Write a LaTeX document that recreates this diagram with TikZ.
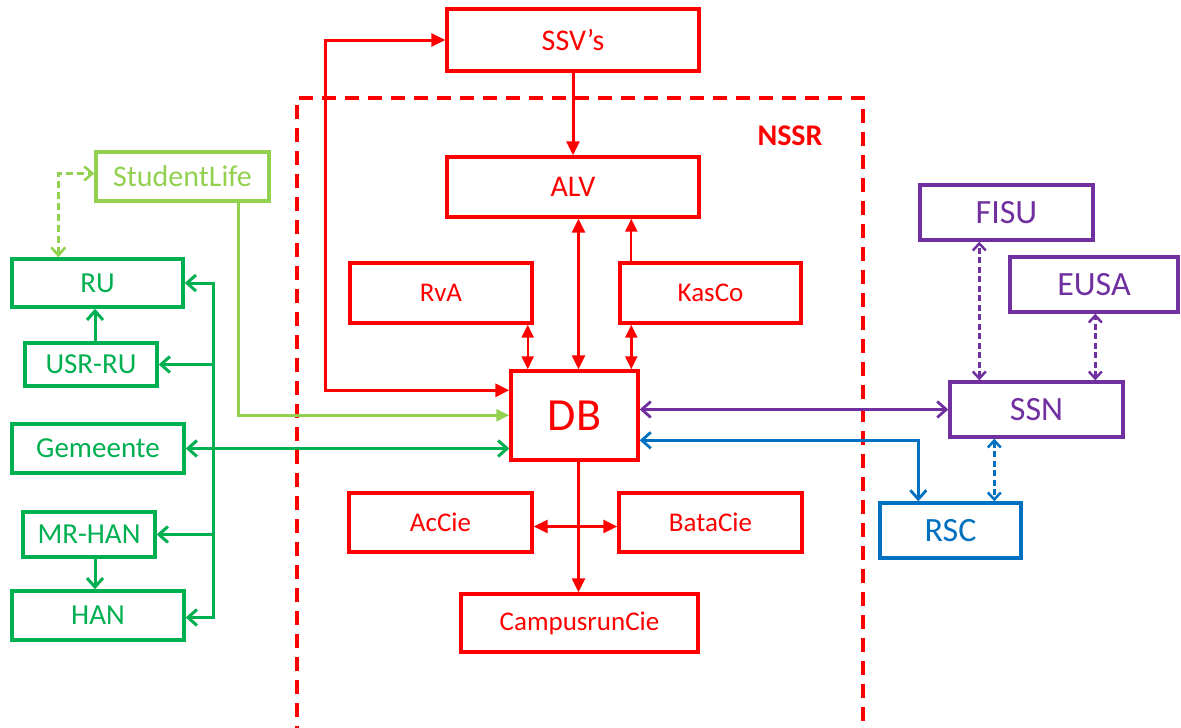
\documentclass[tikz,border=0pt]{standalone}
\usepackage{fontspec}
\setmainfont{Carlito}
\usetikzlibrary{arrows.meta,calc}
\definecolor{cred}{HTML}{FF0000}
\definecolor{cgreen}{HTML}{00B050}
\definecolor{clgreen}{HTML}{92D050}
\definecolor{cpurple}{HTML}{7030A0}
\definecolor{cblue}{HTML}{0070C0}
\tikzset{
  box/.style={draw, line width=3.4pt, inner sep=0pt, rectangle},
  redbox/.style={box, draw=cred, text=cred, font=\fontsize{30}{36}\selectfont},
  smallred/.style={box, draw=cred, text=cred, font=\fontsize{27}{32}\selectfont},
  greenbox/.style={box, draw=cgreen, text=cgreen, font=\fontsize{29}{35}\selectfont},
  lgbox/.style={box, draw=clgreen, text=clgreen, font=\fontsize{30}{36}\selectfont},
  purplebox/.style={box, draw=cpurple, text=cpurple, font=\fontsize{34}{40}\selectfont},
  bluebox/.style={box, draw=cblue, text=cblue, font=\fontsize{34}{40}\selectfont},
  rtip/.style={arrows={-Triangle[length=14pt,width=13pt]}},
  rtips/.style={arrows={Triangle[length=14pt,width=13pt]-Triangle[length=14pt,width=13pt]}},
  rarr/.style={draw=cred, line width=3pt, rtip},
  rthin/.style={draw=cred, line width=2pt, arrows={-Triangle[length=13pt,width=12pt]}},
  gtip/.style={arrows={-Straight Barb[length=9pt,width=16pt,line width=3pt]}},
  gtips/.style={arrows={Straight Barb[length=9pt,width=16pt,line width=3pt]-Straight Barb[length=9pt,width=16pt,line width=3pt]}},
  garr/.style={draw=cgreen, line width=3pt, gtip},
  lgarr/.style={draw=clgreen, line width=2.4pt, arrows={-Triangle[length=13pt,width=12pt]}},
  lgdash/.style={draw=clgreen, line width=2.8pt, dash pattern=on 7pt off 4pt, arrows={Straight Barb[length=8pt,width=14pt,line width=2.6pt]-Straight Barb[length=8pt,width=14pt,line width=2.6pt]}},
  ptips/.style={arrows={Straight Barb[length=9pt,width=16pt,line width=2.8pt]-Straight Barb[length=9pt,width=16pt,line width=2.8pt]}},
  parr/.style={draw=cpurple, line width=2.8pt, ptips},
  barr/.style={draw=cblue, line width=2.8pt, ptips},
  dtips/.style={arrows={Straight Barb[length=7pt,width=13pt,line width=2.5pt]-Straight Barb[length=7pt,width=13pt,line width=2.5pt]}},
  pdash/.style={draw=cpurple, line width=2.6pt, dash pattern=on 6pt off 3.5pt, dtips},
  bdash/.style={draw=cblue, line width=2.6pt, dash pattern=on 6pt off 3.5pt, dtips},
  nssr/.style={draw=cred, line width=3.4pt, dash pattern=on 14pt off 9pt},
}
\begin{document}
\begin{tikzpicture}[x=1pt,y=-1pt]
\useasboundingbox (0,0) rectangle (1181,728);
% NSSR frame
\draw[nssr] (297,740) -- (297,98) -- (863,98) -- (863,740);
\node[text=cred, font=\bfseries\fontsize{30}{36}\selectfont] (nssrlabel) at (790,136) {NSSR};
% red boxes
\node[redbox, minimum width=252pt, minimum height=62pt] (SSV) at (573,40) {SSV’s};
\node[redbox, minimum width=252pt, minimum height=60pt] (ALV) at (573,187) {ALV};
\node[smallred, minimum width=182pt, minimum height=60pt] (RvA) at (441,293) {RvA};
\node[smallred, minimum width=181pt, minimum height=60pt] (KasCo) at (710.5,293) {KasCo};
\node[box, draw=cred, text=cred, font=\fontsize{46}{52}\selectfont, minimum width=127pt, minimum height=89pt] (DB) at (574.5,415.5) {DB};
\node[smallred, minimum width=183pt, minimum height=59pt] (AcCie) at (440.5,522.5) {AcCie};
\node[smallred, minimum width=183pt, minimum height=59pt] (BataCie) at (710.5,522.5) {BataCie};
\node[smallred, minimum width=237pt, minimum height=58pt] (Campus) at (579.5,623) {CampusrunCie};
% green boxes
\node[lgbox, minimum width=173pt, minimum height=49pt] (SL) at (182.5,176.5) {StudentLife};
\node[greenbox, minimum width=171pt, minimum height=48pt] (RU) at (97.5,283) {RU};
\node[greenbox, minimum width=132pt, minimum height=43pt] (USRRU) at (91,364.5) {USR-RU};
\node[greenbox, minimum width=172pt, minimum height=49pt] (Gem) at (98,448.5) {Gemeente};
\node[greenbox, minimum width=132pt, minimum height=45pt] (MRHAN) at (89,534.5) {MR-HAN};
\node[greenbox, minimum width=172pt, minimum height=49pt] (HAN) at (98,615.5) {HAN};
% right boxes
\node[purplebox, minimum width=173pt, minimum height=55pt] (FISU) at (1006.5,212.5) {FISU};
\node[purplebox, minimum width=168pt, minimum height=55pt] (EUSA) at (1094,284.5) {EUSA};
\node[purplebox, minimum width=173pt, minimum height=55pt] (SSN) at (1036.5,409.5) {SSN};
\node[bluebox, minimum width=141pt, minimum height=55pt] (RSC) at (950.5,530.5) {RSC};
% red connectors
\draw[rarr] (SSV.south) -- (ALV.north);
\draw[rarr, rtips] ([yshift=-21pt]DB.north west) -- ++(-184,0) |- (SSV.west);
\draw[rarr, rtips] ([xshift=4pt]DB.north) -- ([xshift=4pt]DB.north |- ALV.south);
\draw[rthin] ([xshift=13pt]KasCo.north west) -- ([xshift=13pt]KasCo.north west |- ALV.south);
\draw[rarr, line width=2.4pt, arrows={Triangle[length=13pt,width=12pt]-Triangle[length=13pt,width=12pt]}] ([xshift=-6pt]RvA.south east) -- ([xshift=-6pt]RvA.south east |- DB.north);
\draw[rarr, line width=2.4pt, arrows={Triangle[length=13pt,width=12pt]-Triangle[length=13pt,width=12pt]}] ([xshift=13pt]KasCo.south west) -- ([xshift=13pt]KasCo.south west |- DB.north);
\draw[rarr] ([xshift=4pt]DB.south) -- ([xshift=4pt]DB.south |- Campus.north);
\draw[rarr, rtips] ([yshift=-4pt]AcCie.east) -- ([yshift=-4pt]BataCie.west);
% green connectors
\coordinate (bus) at (213,0);
\draw[garr, gtips] (RU.east) -| ([yshift=-2pt]bus |- HAN.east) -- ([yshift=-2pt]HAN.east);
\draw[garr] (bus |- USRRU.east) -- (USRRU.east);
\draw[garr] (bus |- MRHAN.east) -- (MRHAN.east);
\draw[garr, gtips] (Gem.east) -- (Gem.east -| DB.west);
\draw[garr] ([xshift=4pt]USRRU.north) -- ([xshift=4pt]USRRU.north |- RU.south);
\draw[garr] ([xshift=6pt]MRHAN.south) -- ([xshift=6pt]MRHAN.south |- HAN.north);
\draw[lgdash] ([xshift=48pt]RU.north west) |- ([yshift=3pt]SL.west);
\draw[lgarr] ([xshift=144pt]SL.south west) |- ([yshift=-46pt]DB.north west);
% right connectors
\draw[parr] (SSN.west) -- (SSN.west -| DB.east);
\draw[barr] ([yshift=-71pt]DB.north east) -| ([xshift=40pt]RSC.north west);
\draw[pdash] ([xshift=31pt]SSN.north west) -- ([xshift=31pt]SSN.north west |- FISU.south);
\draw[pdash] ([xshift=147pt]SSN.north west) -- ([xshift=147pt]SSN.north west |- EUSA.south);
\draw[bdash] ([xshift=46pt]SSN.south west) -- ([xshift=46pt]SSN.south west |- RSC.north);
\end{tikzpicture}
\end{document}
